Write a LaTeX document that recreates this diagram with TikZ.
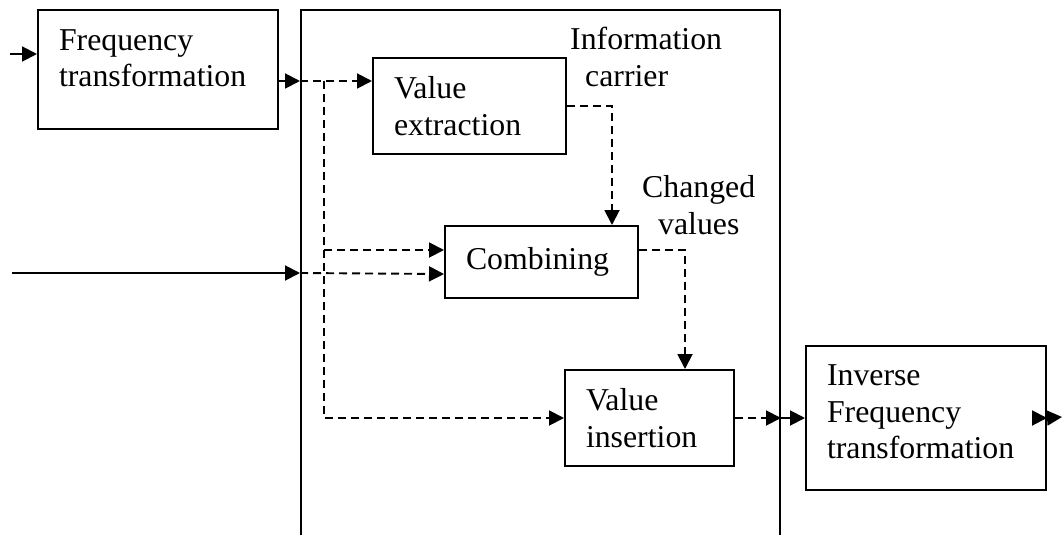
\documentclass[tikz,border=0pt]{standalone}
\usepackage{fontspec}
\setmainfont{Liberation Serif}
\usetikzlibrary{arrows.meta,calc}
\begin{document}
\begin{tikzpicture}[x=1pt,y=-1pt,
  every node/.style={font=\fontsize{31.8}{36.5}\selectfont},
  block/.style={draw, line width=2pt, rectangle, align=left,
    inner xsep=21pt, inner ysep=0pt, anchor=north west},
  tag/.style={align=left, inner sep=0pt, anchor=north west},
  flow/.style={line width=1.9pt, -{Triangle[length=15pt,width=15pt]}},
  dflow/.style={flow, dash pattern=on 8pt off 5pt}
]
\useasboundingbox (0,0) rectangle (1062,535);
\clip (0,0) rectangle (1062,535);

% processing stage (open towards the bottom)
\node[draw, line width=2pt, inner sep=0pt, anchor=north west,
  minimum width=479pt, minimum height=600pt] (core) at (300,9) {};

% blocks
\node[block, text width=198pt, minimum height=119pt] (ft) at (37,9)
  {Frequency\\transformation\\[-14pt]\mbox{}};
\node[block, text width=151pt, minimum height=96pt] (ve) at (372,57)
  {Value\\extraction};
\node[block, text width=151pt, minimum height=72pt] (cb) at (444,225)
  {Combining};
\node[block, text width=127pt, minimum height=96pt] (vi) at (564,369)
  {Value\\insertion};
\node[block, text width=198pt, minimum height=144pt] (iv) at (805,345)
  {Inverse\\Frequency\\transformation\\[-24pt]\mbox{}};

% labels
\node[tag] (lcarrier) at (570,27.3) {Information\\\hspace*{15pt}carrier};
\node[tag] (lchanged) at (642,175.3) {Changed\\\hspace*{16pt}values};

% junctions and free ends
\coordinate (in1) at (10,54);
\coordinate (in2) at (12,273);
\coordinate (split) at (324,81);
\coordinate (bend1) at (612,0);
\coordinate (bend2) at (685,0);
\coordinate (out) at (1062,417);
\coordinate (cbin1) at ($(cb.west)+(0,-12)$);
\coordinate (cbin2) at ($(cb.west)+(0,12)$);
\coordinate (cbout) at ($(cb.east)+(0,-12)$);

% connectors
\draw[flow] (in1) -- (ft.west |- in1);
\draw[flow] (ft.east |- split) -- (core.west |- split);
\draw[dflow] (core.west |- split) -- (ve.west |- split);
\draw[dflow] (split) |- (vi.west);
\draw[dflow] (split |- cbin1) -- (cbin1);
\draw[flow] (in2) -- (core.west |- in2);
\draw[dflow] (core.west |- in2) -- (cbin2);
\draw[dflow] (ve.east) -| (bend1 |- cb.north);
\draw[dflow] (cbout) -| (bend2 |- vi.north);
\draw[dflow] (vi.east) -- (core.east |- vi.east);
\draw[flow] (core.east |- vi.east) -- (iv.west);
\draw[flow] ($(iv.east)+(-15,0)$) -- (iv.east);
\draw[flow] (iv.east) -- (out);
\end{tikzpicture}
\end{document}
